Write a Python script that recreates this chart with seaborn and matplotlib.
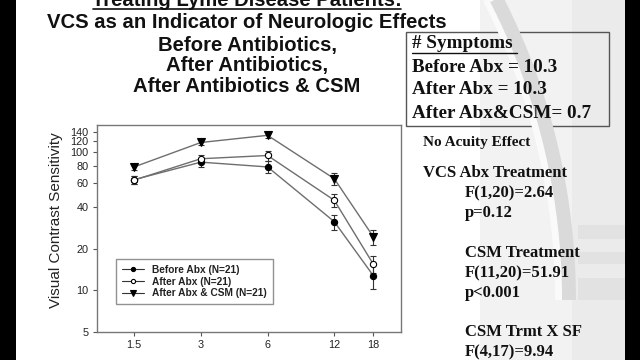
import matplotlib
matplotlib.use("Agg")
import matplotlib.pyplot as plt
import seaborn as sns
import pandas as pd
import numpy as np
from matplotlib.lines import Line2D
from matplotlib.patches import Rectangle
from matplotlib.ticker import FixedLocator, NullLocator

# ---- data ----
spatial_freq = [1.5, 3, 6, 12, 18]
x_tick_labels = ["1.5", "3", "6", "12", "18"]
y_ticks = [5, 10, 20, 40, 60, 80, 100, 120, 140]

series_names = ["Before Abx (N=21)", "After Abx (N=21)", "After Abx & CSM (N=21)"]
before_abx = [63.5, 85, 78.5, 31.5, 12.8]
after_abx = [63, 90, 95, 45, 15.5]
after_abx_csm = [78.5, 118, 133, 64.5, 24.5]
before_err = [4, 6, 8, 4, 2.5]
after_err = [4, 6, 8, 5, 2.2]
csm_err = [4, 5, 5, 6, 3]

title_lines = ["Treating Lyme Disease Patients:",
               "VCS as an Indicator of Neurologic Effects",
               "Before Antibiotics,",
               "After Antibiotics,",
               "After Antibiotics & CSM"]
box_lines = ["# Symptoms", "Before Abx = 10.3", "After Abx = 10.3", "After Abx&CSM= 0.7"]
stats_lines = ["No Acuity Effect", "VCS Abx Treatment", "F(1,20)=2.64", "p=0.12",
               "CSM Treatment", "F(11,20)=51.91", "p<0.001", "CSM Trmt X SF", "F(4,17)=9.94"]

df = pd.DataFrame({
    "sf": spatial_freq * 3,
    "vcs": before_abx + after_abx + after_abx_csm,
    "err": before_err + after_err + csm_err,
    "group": [series_names[0]] * 5 + [series_names[1]] * 5 + [series_names[2]] * 5,
})

sns.set_theme(style="white")
plt.rcParams["font.family"] = ["Liberation Sans", "DejaVu Sans"]

fig = plt.figure(figsize=(6.4, 3.6), dpi=100)
fig.patch.set_facecolor("white")

# slide background decoration
bg = fig.add_axes([0, 0, 1, 1], zorder=-10)
bg.set_xlim(0, 640); bg.set_ylim(360, 0); bg.axis("off")
bg.add_patch(Rectangle((480, 0), 145, 360, color="#f2f2f2", lw=0))
bg.add_patch(Rectangle((572, 0), 53, 360, color="#ebebeb", lw=0))
for yy, hh in [(225, 14), (252, 12), (278, 22)]:
    bg.add_patch(Rectangle((578, yy), 47, hh, color="#e2e2e2", lw=0))
t = np.linspace(-np.pi / 2.2, 0, 200)
cx, cy, r = -92, 300, 661
arc_x = cx + r * np.cos(t)
arc_y = cy + r * np.sin(t)
bg.plot(arc_x - 9, arc_y, color="#fafafa", lw=7, solid_capstyle="butt")
bg.plot(arc_x, arc_y, color="#dadada", lw=10, solid_capstyle="butt")
bg.add_patch(Rectangle((0, 0), 16, 360, color="black", lw=0))
bg.add_patch(Rectangle((625, 0), 15, 360, color="black", lw=0))

ax = fig.add_axes([97 / 640, 1 - 332 / 360, (401 - 97) / 640, (332 - 125) / 360])
ax.set_facecolor("white")

styles = {
    series_names[0]: dict(marker="o", markerfacecolor="black", ms=4.5),
    series_names[1]: dict(marker="o", markerfacecolor="white", ms=4.5),
    series_names[2]: dict(marker="v", markerfacecolor="black", ms=5.5),
}
for name in series_names:
    sub = df[df["group"] == name]
    ax.errorbar(sub["sf"], sub["vcs"], yerr=sub["err"], fmt="none", ecolor="#333333",
                elinewidth=0.8, capsize=2, capthick=0.8, zorder=2)
    sns.lineplot(data=sub, x="sf", y="vcs", ax=ax, color="#6e6e6e", lw=1.0,
                 markeredgecolor="black", markeredgewidth=0.8, zorder=3, legend=False,
                 **styles[name])

ax.set_xscale("log")
ax.set_yscale("log")
ax.set_xlim(1.02, 24)
ax.set_ylim(5, 158)
ax.xaxis.set_major_locator(FixedLocator(spatial_freq))
ax.xaxis.set_minor_locator(NullLocator())
ax.set_xticklabels(x_tick_labels)
ax.yaxis.set_major_locator(FixedLocator(y_ticks))
ax.yaxis.set_minor_locator(NullLocator())
ax.set_yticklabels([str(v) for v in y_ticks])
ax.tick_params(axis="both", which="major", length=3, width=0.8, color="#555555",
               labelsize=7.8, labelcolor="#222222", pad=3, direction="out")
ax.tick_params(axis="both", bottom=True, left=True)
for s in ax.spines.values():
    s.set_color("#777777"); s.set_linewidth(1.0)
ax.set_xlabel("")
ax.set_ylabel("Visual Contrast Sensitivity", fontsize=11, color="#222222")
ax.yaxis.set_label_coords(-34 / 304, 0.54)

handles = [Line2D([0], [0], color="#333333", lw=0.8, markeredgecolor="black",
                  markeredgewidth=0.8, **{k: (v - 1.5 if k == "ms" else v) for k, v in styles[n].items()})
           for n in series_names]
leg = ax.legend(handles, series_names, loc="lower left", bbox_to_anchor=(0.045, 0.11),
                fontsize=7.3, frameon=True, fancybox=False, edgecolor="#777777",
                handlelength=2.2, handletextpad=0.8, borderpad=0.6, labelspacing=0.15)
leg.get_frame().set_linewidth(1.0)
for tx in leg.get_texts():
    tx.set_fontweight("bold"); tx.set_color("#222222")

# title
title_y = [1, 22, 45, 66, 87]
for txt, yy in zip(title_lines, title_y):
    fig.text(247 / 640, 1 - yy / 360, txt, ha="center", va="center", fontsize=14.6,
             fontweight="bold", color="#111111")
fig.add_artist(Line2D([93 / 640, 401 / 640], [1 - 9 / 360] * 2, color="#111111", lw=1.2))

# symptom box
serif = ["Liberation Serif", "DejaVu Serif"]
bg.add_patch(Rectangle((406, 32), 203, 94, fill=False, edgecolor="#555555", lw=1.0))
box_y = [43, 67, 90, 113]
for txt, yy in zip(box_lines, box_y):
    fig.text(412 / 640, 1 - yy / 360, txt, ha="left", va="center", fontsize=13.8,
             fontweight="bold", family=serif, color="#111111")
fig.add_artist(Line2D([412 / 640, 517 / 640], [1 - 53 / 360] * 2, color="#111111", lw=1.0))

# stats text
stats_pos = [(423, 143), (423, 173), (465, 193), (465, 213), (465, 253), (465, 273),
             (465, 293), (465, 332), (465, 352)]
for txt, (xx, yy) in zip(stats_lines, stats_pos):
    fs = 11 if txt == "No Acuity Effect" else 12
    fig.text(xx / 640, 1 - yy / 360, txt, ha="left", va="center", fontsize=fs,
             fontweight="bold", family=serif, color="#111111")

fig.savefig("out.png", dpi=100, facecolor="white")
